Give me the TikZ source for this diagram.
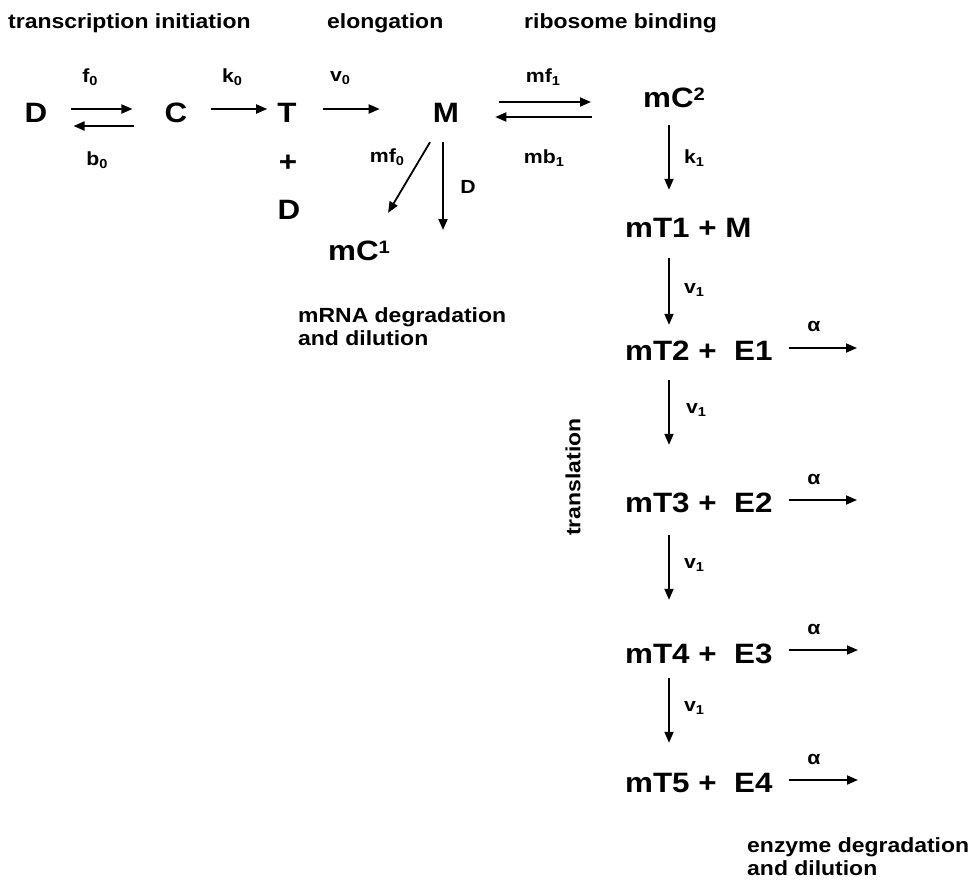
\documentclass[tikz,border=0pt]{standalone}
\usepackage{fontspec}
\setmainfont{Liberation Sans}[FakeStretch=1.12]
\usepackage{tikz}
\usetikzlibrary{arrows.meta}
\newcommand{\lowix}[1]{\raisebox{-3.5pt}{\fontsize{13}{13}\selectfont #1}}
\newcommand{\upix}[1]{\raisebox{7pt}{\fontsize{18}{18}\selectfont #1}}

\begin{document}
\begin{tikzpicture}[x=1pt, y=-1pt,
    species/.style={font=\fontsize{28}{28}\selectfont\bfseries, inner sep=0pt, text height=20pt, text depth=0pt},
    rate/.style={font=\fontsize{19}{19}\selectfont\bfseries, inner sep=0pt},
    note/.style={font=\fontsize{20.5}{23}\selectfont\bfseries, inner sep=0pt, align=left},
    arr/.style={line width=1.8pt, -{Triangle[length=11pt,width=9pt]}}]
\useasboundingbox (0,0) rectangle (969,887);

    \node[note, anchor=base west] (hinit) at (8,28) {transcription initiation};
    \node[note, anchor=base west] (helong) at (327,28) {elongation};
    \node[note, anchor=base west] (hribo) at (524,28) {ribosome binding};

    \node[species] (D) at (36,112) {D};
    \node[species] (C) at (176,112) {C};
    \node[species] (T) at (287,112) {T};
    \node[species] (plus) at (288,161) {+};
    \node[species] (D2) at (289,209) {D};
    \node[species] (M) at (446,112) {M};
    \node[species, anchor=west] (mC1) at (328,250) {mC\upix{1}};
    \node[species, anchor=west] (mC2) at (643,97) {mC\upix{2}};
    \node[species, anchor=west] (mT1M) at (625,227) {mT1 + M};
    \node[species, anchor=west] (mT2E1) at (625,350) {mT2 +\ \ E1};
    \node[species, anchor=west] (mT3E2) at (625,502) {mT3 +\ \ E2};
    \node[species, anchor=west] (mT4E3) at (625,653) {mT4 +\ \ E3};
    \node[species, anchor=west] (mT5E4) at (625,782) {mT5 +\ \ E4};

    \node[rate] (f0) at (90,77) {f\lowix{0}};
    \node[rate] (b0) at (97,160) {b\lowix{0}};
    \node[rate] (k0) at (232,77) {k\lowix{0}};
    \node[rate] (v0) at (340,78) {v\lowix{0}};
    \node[rate] (mf0) at (387,157) {mf\lowix{0}};
    \node[rate] (dl) at (468,187) {D};
    \node[rate] (mf1) at (543,77) {mf\lowix{1}};
    \node[rate] (mb1) at (544,158) {mb\lowix{1}};
    \node[rate] (k1) at (694,158) {k\lowix{1}};
    \node[rate] (v1a) at (694,290) {v\lowix{1}};
    \node[rate] (v1b) at (696,410) {v\lowix{1}};
    \node[rate] (v1c) at (694,565) {v\lowix{1}};
    \node[rate] (v1d) at (694,708) {v\lowix{1}};
    \node[rate] (al1) at (814,326) {α};
    \node[rate] (al2) at (814,479) {α};
    \node[rate] (al3) at (814,629) {α};
    \node[rate] (al4) at (814,759) {α};

    \node[note, anchor=north west] (hmrna) at (298,307) {mRNA degradation\\and dilution};
    \node[note, anchor=north west] (henz) at (747,837) {enzyme degradation\\and dilution};
    \node[note, rotate=90] (htrans) at (573,477) {translation};

    \coordinate (Mout) at (443,230);
    \coordinate (out1) at (857,348);
    \coordinate (out2) at (857,500);
    \coordinate (out3) at (858,650);
    \coordinate (out4) at (858,780);

\draw[arr, shorten <=23pt, shorten >=32pt] ([yshift=3pt]D.east) -- ([yshift=3pt]C.west);
\draw[arr, shorten <=30pt, shorten >=26pt] ([yshift=-14pt]C.west) -- ([yshift=-14pt]D.east);
\draw[arr, shorten <=23pt, shorten >=10pt] ([yshift=3pt]C.east) -- ([yshift=3pt]T.west);
\draw[arr, shorten <=26pt, shorten >=53pt] ([yshift=3pt]T.east) -- ([yshift=3pt]M.west);
\draw[arr, shorten <=40pt, shorten >=52pt] ([yshift=10pt]M.east) -- ([yshift=-5pt]mC2.west);
\draw[arr, shorten <=51pt, shorten >=36pt] ([yshift=-20pt]mC2.west) -- ([yshift=-5pt]M.east);
\draw[arr] ([xshift=-16pt, yshift=-20pt]M.south) -- ([xshift=29pt, yshift=27pt]mC1.north);
\draw[arr, shorten <=20pt] ([xshift=-3pt]M.south) -- (Mout);

\draw[arr, shorten <=18pt, shorten >=27pt] ([xshift=26pt]mC2.south west) -- ([xshift=44pt]mT1M.north west);
\draw[arr, shorten <=21pt, shorten >=15pt] ([xshift=44pt]mT1M.south west) -- ([xshift=44pt]mT2E1.north west);
\draw[arr, shorten <=20pt, shorten >=47pt] ([xshift=44pt]mT2E1.south west) -- ([xshift=44pt]mT3E2.north west);
\draw[arr, shorten <=23pt, shorten >=43pt] ([xshift=44pt]mT3E2.south west) -- ([xshift=44pt]mT4E3.north west);
\draw[arr, shorten <=15pt, shorten >=29pt] ([xshift=44pt]mT4E3.south west) -- ([xshift=44pt]mT5E4.north west);

\draw[arr, shorten <=16pt] (mT2E1.east |- out1) -- (out1);
\draw[arr, shorten <=16pt] (mT3E2.east |- out2) -- (out2);
\draw[arr, shorten <=16pt] (mT4E3.east |- out3) -- (out3);
\draw[arr, shorten <=16pt] (mT5E4.east |- out4) -- (out4);
\end{tikzpicture}
\end{document}
